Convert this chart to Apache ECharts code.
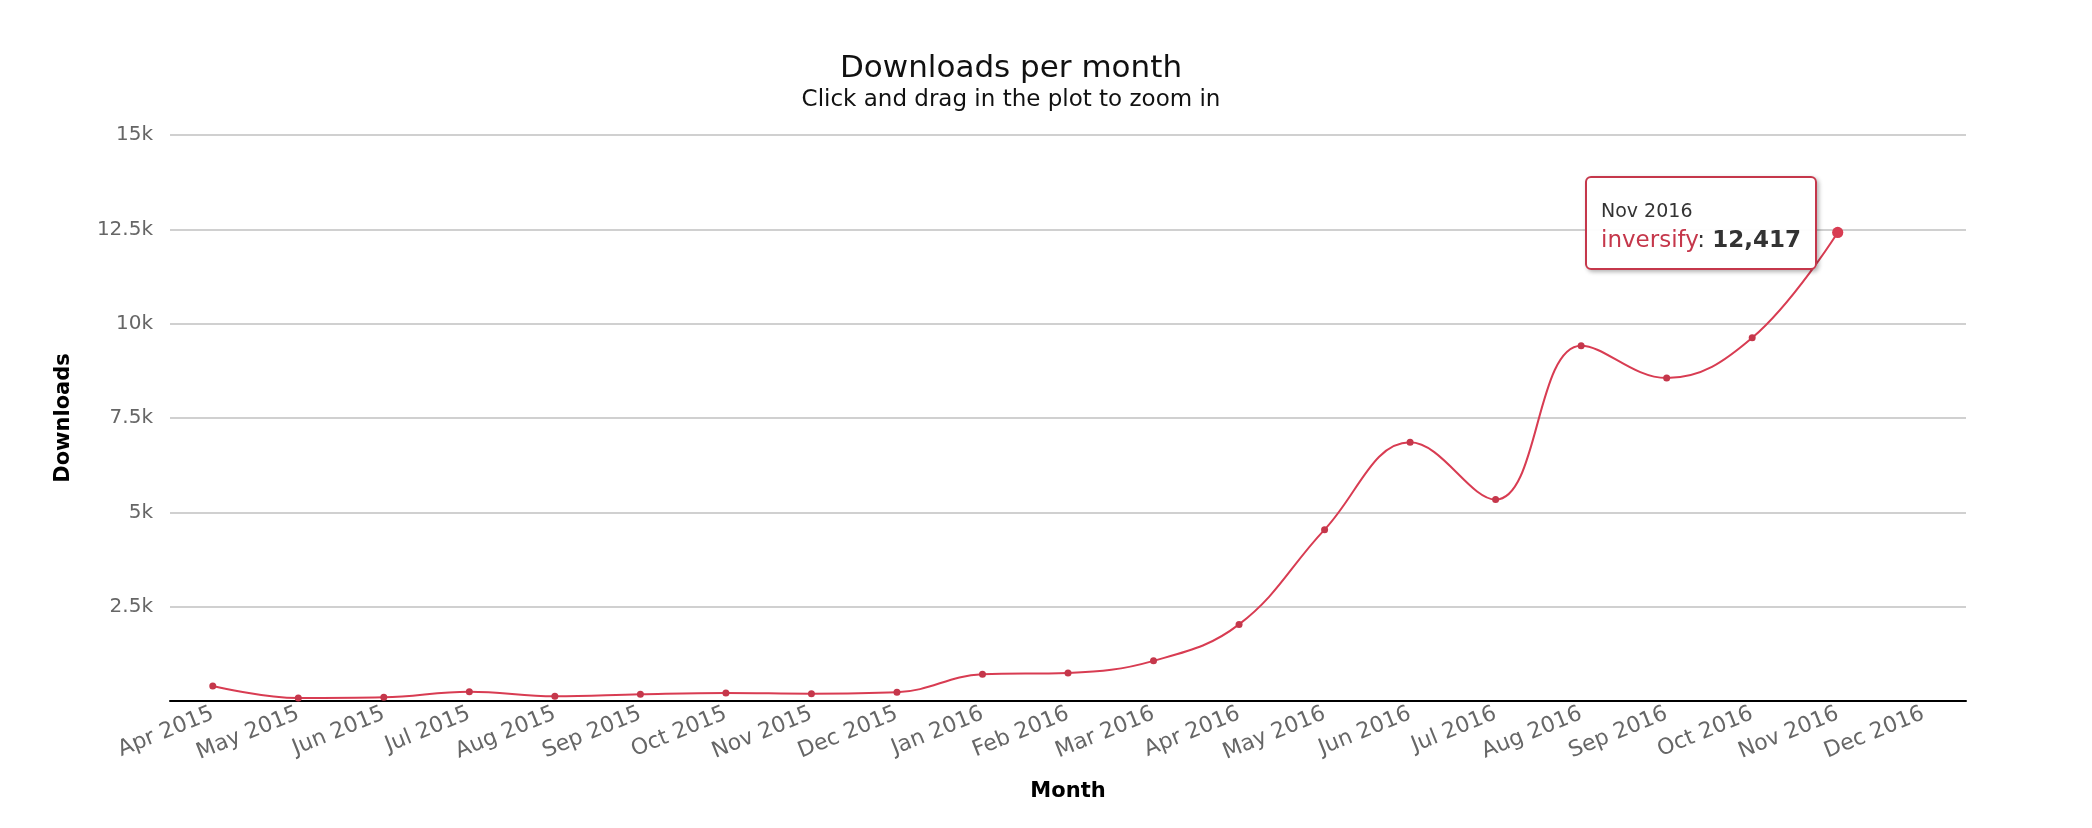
<!DOCTYPE html>
<html>
<head>
<meta charset="utf-8">
<title>Downloads per month</title>
<script src="https://cdn.jsdelivr.net/npm/echarts@6/dist/echarts.min.js"></script>
<style>
  html, body { margin: 0; padding: 0; background: #fff; }
  #chart { width: 2092px; height: 828px; }
</style>
</head>
<body>
<div id="chart"></div>
<script>
// months on the x axis (Dec 2016 has no value yet)
const months = ['Apr 2015', 'May 2015', 'Jun 2015', 'Jul 2015', 'Aug 2015', 'Sep 2015',
  'Oct 2015', 'Nov 2015', 'Dec 2015', 'Jan 2016', 'Feb 2016', 'Mar 2016', 'Apr 2016',
  'May 2016', 'Jun 2016', 'Jul 2016', 'Aug 2016', 'Sep 2016', 'Oct 2016', 'Nov 2016', 'Dec 2016']
// downloads of inversify per month
const downloads = [399, 80, 98, 248, 124, 177, 213, 195, 230, 709, 745, 1064, 2030,
  4541, 6855, 5337, 9416, 8557, 9624, 12417]
const yTicks = [0, 2500, 5000, 7500, 10000, 12500, 15000]
const seriesName = 'inversify'
const red = '#c5374b'
const font = '"DejaVu Sans", "Lucida Grande", sans-serif'

const chart = echarts.init(document.getElementById('chart'))
chart.setOption({
  animation: false,
  title: {
    text: 'Downloads per month',
    subtext: 'Click and drag in the plot to zoom in',
    left: 1006,
    textAlign: 'center',
    top: 48,
    itemGap: 5,
    textStyle: { fontFamily: font, fontSize: 31, fontWeight: 'normal', color: '#111' },
    subtextStyle: { fontFamily: font, fontSize: 23, color: '#111' }
  },
  grid: { left: 170, right: 126, top: 135, bottom: 127 },
  tooltip: {
    trigger: 'item',
    triggerOn: 'none',
    alwaysShowContent: true,
    showDelay: 0,
    transitionDuration: 0,
    backgroundColor: 'rgba(255,255,255,0.96)',
    borderColor: red,
    borderWidth: 2,
    borderRadius: 6,
    padding: [20, 14, 13, 14],
    extraCssText: 'box-shadow: 2px 2px 4px rgba(0,0,0,0.3);',
    position: function (pt, params, dom, rect, size) {
      return [pt[0] - size.contentSize[0] - 21, pt[1] - 56]
    },
    formatter: function (p) {
      return '<div style="font-family:' + font.replace(/"/g, "'") + ';color:#333;line-height:1.35">' +
        '<div style="font-size:19px">' + p.name + '</div>' +
        '<div style="font-size:23px"><span style="color:' + red + '">' + p.seriesName +
        '</span>: <b>' + p.value.toLocaleString('en-US') + '</b></div></div>'
    }
  },
  xAxis: {
    type: 'category',
    data: months,
    boundaryGap: true,
    name: 'Month',
    nameLocation: 'middle',
    nameGap: 80,
    nameTextStyle: { fontFamily: font, fontSize: 21, fontWeight: 'bold', color: '#000' },
    axisLine: { lineStyle: { color: '#000', width: 2 } },
    axisTick: { length: 9, lineStyle: { color: '#c0d0e0', width: 1.5 } },
    axisLabel: {
      interval: 0,
      rotate: 22,
      margin: 12,
      fontFamily: font,
      fontSize: 22,
      color: '#666'
    },
    splitLine: { show: false }
  },
  yAxis: {
    type: 'value',
    min: yTicks[0],
    max: yTicks[yTicks.length - 1],
    interval: yTicks[1] - yTicks[0],
    name: 'Downloads',
    nameLocation: 'middle',
    nameGap: 96,
    nameTextStyle: { fontFamily: font, fontSize: 21, fontWeight: 'bold', color: '#000' },
    axisLine: { show: false },
    axisTick: { show: false },
    axisLabel: {
      margin: 17,
      fontFamily: font,
      fontSize: 20,
      color: '#666',
      formatter: function (v) { return v === 0 ? '' : (v / 1000) + 'k' }
    },
    splitLine: { lineStyle: { color: '#c0c0c0', width: 1.5 } }
  },
  series: [{
    name: seriesName,
    type: 'line',
    data: downloads,
    smooth: 0.4,
    symbol: 'circle',
    symbolSize: 7,
    itemStyle: { color: red },
    lineStyle: { color: red, width: 2 },
    emphasis: {
      scale: 1.6,
      focus: 'none',
      lineStyle: { width: 2 }
    }
  }]
})

const last = downloads.length - 1
chart.dispatchAction({ type: 'highlight', seriesIndex: 0, dataIndex: last })
chart.dispatchAction({ type: 'showTip', seriesIndex: 0, dataIndex: last })
</script>
</body>
</html>
